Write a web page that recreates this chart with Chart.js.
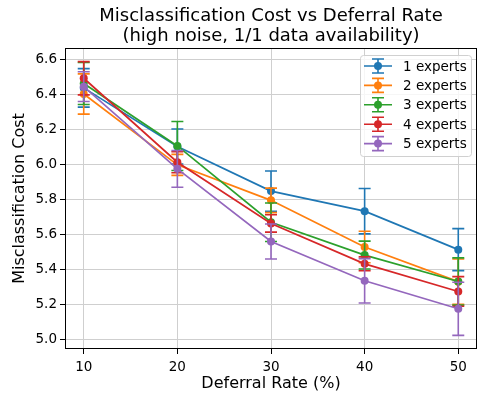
<!DOCTYPE html>
<html>
<head>
<meta charset="utf-8">
<script src="https://cdn.jsdelivr.net/npm/chart.js@4.4.1/dist/chart.umd.min.js"></script>
<style>
  body { margin: 0; background: #fff; }
  #wrap { width: 481px; height: 396px; }
</style>
</head>
<body>
<div id="wrap"><canvas id="grafico" width="481" height="396"></canvas></div>
<script>
const deferralRates = [10, 20, 30, 40, 50];
const seriesLabels = ['1 experts', '2 experts', '3 experts', '4 experts', '5 experts'];
const seriesColors = ['#1f77b4', '#ff7f0e', '#2ca02c', '#d62728', '#9467bd'];

// mean misclassification cost per deferral rate
const cost1 = [6.44, 6.105, 5.85, 5.735, 5.515];
const cost2 = [6.405, 6.0, 5.797, 5.53, 5.332];
const cost3 = [6.465, 6.108, 5.672, 5.484, 5.333];
const cost4 = [6.495, 6.015, 5.665, 5.434, 5.276];
const cost5 = [6.447, 5.977, 5.562, 5.337, 5.177];

// error bar half widths
const err1 = [0.11, 0.10, 0.115, 0.13, 0.12];
const err2 = [0.115, 0.06, 0.07, 0.09, 0.13];
const err3 = [0.12, 0.14, 0.11, 0.08, 0.135];
const err4 = [0.095, 0.06, 0.05, 0.04, 0.085];
const err5 = [0.085, 0.105, 0.1, 0.127, 0.152];

const xTicks = [10, 20, 30, 40, 50];
const yTicks = [5.0, 5.2, 5.4, 5.6, 5.8, 6.0, 6.2, 6.4, 6.6];

const titleLines = ['Misclassification Cost vs Deferral Rate', '(high noise, 1/1 data availability)'];

const FONT = "'DejaVu Sans', sans-serif";
const costs = [cost1, cost2, cost3, cost4, cost5];
const errs = [err1, err2, err3, err4, err5];

const datasets = costs.map((c, i) => ({
    label: seriesLabels[i],
    data: deferralRates.map((x, j) => ({ x: x, y: c[j] })),
    errors: errs[i],
    borderColor: seriesColors[i],
    backgroundColor: seriesColors[i],
    borderWidth: 1.7,
    pointRadius: 4,
    pointBorderWidth: 0,
    pointHoverRadius: 4,
    tension: 0,
    order: costs.length - 1 - i   // later series drawn on top
}));

// error bars drawn right before each series line
const errorBars = {
    id: 'errorBars',
    beforeDatasetDraw(chart, args) {
        const ds = chart.data.datasets[args.index];
        const ctx = chart.ctx;
        const xs = chart.scales.x, ys = chart.scales.y;
        ctx.save();
        ctx.strokeStyle = ds.borderColor;
        ctx.lineWidth = 1.6;
        ds.data.forEach((p, i) => {
            const x = xs.getPixelForValue(p.x);
            const top = ys.getPixelForValue(p.y + ds.errors[i]);
            const bot = ys.getPixelForValue(p.y - ds.errors[i]);
            ctx.beginPath();
            ctx.moveTo(x, top); ctx.lineTo(x, bot);
            ctx.moveTo(x - 6, top); ctx.lineTo(x + 6, top);
            ctx.moveTo(x - 6, bot); ctx.lineTo(x + 6, bot);
            ctx.stroke();
        });
        ctx.restore();
    }
};

// title, frame and legend in matplotlib style
const decor = {
    id: 'decor',
    afterDraw(chart) {
        const ctx = chart.ctx;
        const a = chart.chartArea;
        ctx.save();

        ctx.strokeStyle = '#000';
        ctx.lineWidth = 1;
        ctx.strokeRect(a.left + 0.5, a.top + 0.5, a.right - a.left - 1, a.bottom - a.top - 1);

        ctx.fillStyle = '#000';
        ctx.font = '18px ' + FONT;
        ctx.textAlign = 'center';
        ctx.textBaseline = 'middle';
        const cx = (a.left + a.right) / 2;
        ctx.fillText(titleLines[0], cx, 16);
        ctx.fillText(titleLines[1], cx, 36);

        // legend box
        const bx = a.right - 117, by = a.top + 7, bw = 111, bh = 101;
        ctx.beginPath();
        ctx.roundRect(bx + 0.5, by + 0.5, bw, bh, 3);
        ctx.fillStyle = 'rgba(255,255,255,0.8)';
        ctx.fill();
        ctx.strokeStyle = '#d0d0d0';
        ctx.stroke();

        ctx.font = '13.5px ' + FONT;
        ctx.textAlign = 'left';
        seriesLabels.forEach((lab, i) => {
            const y = by + 11 + i * 19.4;
            const mx = bx + 18;
            ctx.strokeStyle = seriesColors[i];
            ctx.lineWidth = 1.6;
            ctx.beginPath();
            ctx.moveTo(bx + 4, y); ctx.lineTo(bx + 32, y);
            ctx.moveTo(mx, y - 7); ctx.lineTo(mx, y + 7);
            ctx.moveTo(mx - 6, y - 7); ctx.lineTo(mx + 6, y - 7);
            ctx.moveTo(mx - 6, y + 7); ctx.lineTo(mx + 6, y + 7);
            ctx.stroke();
            ctx.fillStyle = seriesColors[i];
            ctx.beginPath();
            ctx.arc(mx, y, 4, 0, Math.PI * 2);
            ctx.fill();
            ctx.fillStyle = '#000';
            ctx.fillText(lab, bx + 43, y + 1);
        });
        ctx.restore();
    }
};

function axisOptions(min, max, ticks, fmt, title) {
    return {
        type: 'linear',
        min: min,
        max: max,
        afterBuildTicks: s => { s.ticks = ticks.map(v => ({ value: v })); },
        ticks: {
            color: '#000',
            font: { family: FONT, size: 13.5 },
            padding: 3,
            callback: fmt
        },
        grid: { color: '#cfcfcf', lineWidth: 1, tickColor: '#000', tickLength: 5 },
        border: { display: false },
        title: {
            display: true,
            text: title,
            color: '#000',
            font: { family: FONT, size: 16 }
        }
    };
}

const xAxis = axisOptions(8, 52, xTicks, v => String(v), 'Deferral Rate (%)');
xAxis.afterFit = s => { s.height = 47; };
xAxis.ticks.padding = 5;
xAxis.title.padding = { top: 0, bottom: 3 };
const yAxis = axisOptions(4.947, 6.668, yTicks, v => v.toFixed(1), 'Misclassification Cost');
yAxis.afterFit = s => { s.width = 65; };
yAxis.title.padding = { top: 10, bottom: 0 };

new Chart(document.getElementById('grafico'), {
    type: 'line',
    data: { datasets: datasets },
    options: {
        responsive: false,
        animation: false,
        layout: { padding: { top: 48, right: 2, left: 0, bottom: 0 } },
        plugins: { legend: { display: false }, tooltip: { enabled: false } },
        scales: { x: xAxis, y: yAxis }
    },
    plugins: [errorBars, decor]
});
</script>
</body>
</html>
